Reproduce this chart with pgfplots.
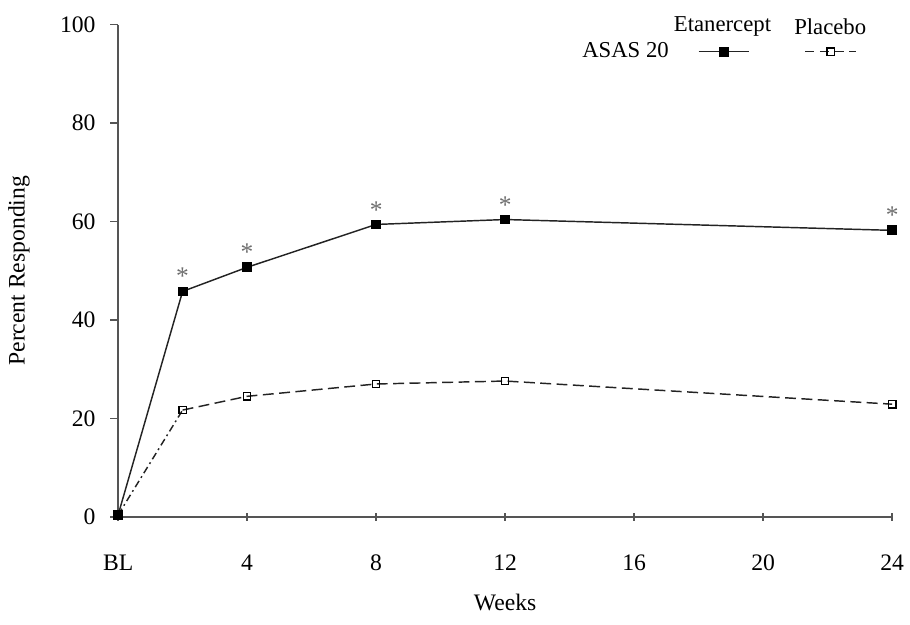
\documentclass[border=0pt]{standalone}
\usepackage{pgfplots}
\pgfplotsset{compat=1.18}
\usepackage{fontspec}
\setmainfont{Liberation Serif}

\definecolor{axisgray}{RGB}{85,85,85}
\definecolor{linegray}{RGB}{35,35,35}
\definecolor{stargray}{RGB}{110,110,110}

\begin{document}
\begin{tikzpicture}
\begin{axis}[
  scale only axis, width=426pt, height=271pt,
  xmin=0, xmax=24, ymin=0, ymax=100,
  axis lines*=left,
  axis line style={axisgray, line width=1.3pt},
  xtick={0,4,8,12,16,20,24}, xticklabels={BL,4,8,12,16,20,24},
  ytick={0,20,40,60,80,100},
  major tick length=4.4pt,
  xtick align=center, ytick align=outside,
  tick style={axisgray, line width=0.8pt},
  font=\fontsize{13}{15}\selectfont,
  /pgf/number format/assume math mode=true,
  xticklabel style={anchor=center, yshift=-23pt},
  yticklabel style={anchor=east, xshift=-4.5pt},
  xlabel={Weeks}, ylabel={Percent Responding},
  every axis x label/.style={at={(axis description cs:0.5,-0.173)}, anchor=center},
  every axis y label/.style={at={(axis description cs:-0.128,0.5)}, rotate=90, anchor=center},
  clip=false,
  legend style={draw=none, fill=none, at={(axis cs:14.1,94.5)}, anchor=west,
    font=\fontsize{12.5}{14}\selectfont, legend columns=2,
    /tikz/every odd column/.append style={column sep=14pt},
    /tikz/every even column/.append style={column sep=12pt}},
  legend plot pos=right,
  legend image code/.code={\draw[mark repeat=2,mark phase=2,#1] plot coordinates {(0pt,0pt) (14pt,0pt) (28pt,0pt)};},
]
% Etanercept
\addplot[linegray, line width=0.8pt, mark=square*, mark size=2.3pt, mark options={solid, fill=black, draw=black}]
  coordinates {(0,0.4) (2,45.8) (4,50.7) (8,59.4) (12,60.4) (24,58.2)};
\addlegendentry{ASAS 20}
% Placebo BL to week 2
\addplot[linegray, line width=0.8pt, dash pattern=on 4pt off 2pt on 1pt off 2pt, forget plot]
  coordinates {(0,0.4) (2,21.7)};
% Placebo
\addplot[linegray, line width=0.8pt, dash pattern=on 6pt off 3pt, mark=square, mark size=2pt, mark options={solid, fill=white, draw=black},
  legend image post style={dash pattern=on 5pt off 3pt}]
  coordinates {(2,21.7) (4,24.5) (8,27.0) (12,27.6) (24,22.9)};
\addlegendentry{}
% significance asterisks
\addplot[draw=none, mark=none, forget plot, nodes near coords={*},
  nodes near coords align=above,
  every node near coord/.append style={stargray, font=\fontsize{14}{15}\selectfont}]
  coordinates {(2,45.8) (4,50.7) (8,59.4) (12,60.4) (24,58.2)};
\node[font=\fontsize{12.5}{14}\selectfont] at (axis cs:18.74,99.6) {Etanercept};
\node[font=\fontsize{12.5}{14}\selectfont] at (axis cs:22.08,99.6) {Placebo};
% page margins as in the reference
\path (rel axis cs:0,1) ++(-65pt,13.5pt) coordinate (tl);
\path (rel axis cs:1,0) ++(9pt,-59pt) coordinate (br);
\path (tl) rectangle (br);
\end{axis}
\end{tikzpicture}
\end{document}
